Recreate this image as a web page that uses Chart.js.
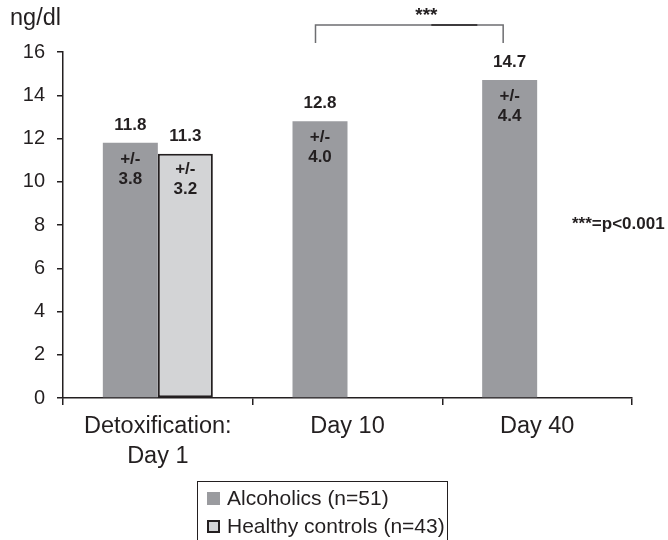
<!DOCTYPE html>
<html>
<head>
<meta charset="utf-8">
<script src="https://cdn.jsdelivr.net/npm/chart.js@4.4.1/dist/chart.umd.min.js"></script>
<style>
  html, body { margin: 0; padding: 0; background: #ffffff; }
  #wrap { position: relative; width: 668px; height: 540px; overflow: hidden; background: #ffffff; }
  #chart { position: absolute; left: 0; top: 0; }
  #legend { position: absolute; left: 197px; top: 481px; width: 251px; height: 90px;
            border: 1px solid #231f20; box-sizing: border-box;
            font-family: "Liberation Sans", Arial, sans-serif; font-size: 21px; color: #231f20; }
  .item { position: absolute; left: 0; height: 28px; line-height: 28px; white-space: nowrap; }
  .swatch { position: absolute; left: 9px; top: 8px; width: 13px; height: 13px; box-sizing: border-box; }
  .label { position: absolute; left: 29px; top: 0; }
</style>
</head>
<body>
<div id="wrap">
  <canvas id="chart" width="668" height="540"></canvas>
  <div id="legend"></div>
</div>
<script>
// ---- data ----
const categories = [["Detoxification:", "Day 1"], "Day 10", "Day 40"];
const seriesNames = ["Alcoholics (n=51)", "Healthy controls (n=43)"];
const alcoholics = [11.8, 12.8, 14.7];
const controls = [11.3, null, null];
const alcoholicsSD = [3.8, 4.0, 4.4];
const controlsSD = [3.2, null, null];
const yMin = 0;
const yMax = 16;
const yStep = 2;
const unitLabel = "ng/dl";
const sigMark = "***";
const sigNote = "***=p<0.001";
const sigPair = [1, 2]; // Day 10 vs Day 40

// ---- styles ----
const FONT = '"Liberation Sans", Arial, sans-serif';
const INK = '#231f20';
const colAlc = '#9a9b9f';
const colCtl = '#d3d4d6';

const sdSets = [alcoholicsSD, controlsSD];

const annotations = {
  id: 'annotations',
  afterDatasetsDraw(chart) {
    const ctx = chart.ctx;
    ctx.save();
    ctx.fillStyle = INK;
    ctx.textAlign = 'center';
    chart.data.datasets.forEach((ds, di) => {
      const meta = chart.getDatasetMeta(di);
      meta.data.forEach((bar, i) => {
        const v = ds.data[i];
        if (v === null || v === undefined) return;
        ctx.font = 'bold 17px ' + FONT;
        ctx.textBaseline = 'alphabetic';
        ctx.fillText(v.toFixed(1), bar.x, bar.y - 13);
        const sd = sdSets[di][i];
        if (sd !== null && sd !== undefined) {
          ctx.textBaseline = 'middle';
          ctx.fillText('+/-', bar.x, bar.y + 16);
          ctx.fillText(sd.toFixed(1), bar.x, bar.y + 36);
        }
      });
    });
    ctx.restore();
  },
  afterDraw(chart) {
    const ctx = chart.ctx;
    const area = chart.chartArea;
    ctx.save();
    // unit label
    ctx.fillStyle = INK;
    ctx.font = '23.5px ' + FONT;
    ctx.textAlign = 'left';
    ctx.textBaseline = 'middle';
    ctx.fillText(unitLabel, 10, 19);
    // significance bracket
    const meta = chart.getDatasetMeta(0);
    const b1 = meta.data[sigPair[0]], b2 = meta.data[sigPair[1]];
    const x1 = b1.x - 4.5, x2 = b2.x - 6.5;
    const yTop = area.top - 27, yBot = area.top - 9;
    ctx.strokeStyle = '#6d6e71';
    ctx.lineWidth = 1.5;
    ctx.beginPath();
    ctx.moveTo(x1, yBot); ctx.lineTo(x1, yTop); ctx.lineTo(x2, yTop); ctx.lineTo(x2, yBot);
    ctx.stroke();
    ctx.strokeStyle = INK;
    ctx.beginPath();
    const mid = (x1 + x2) / 2;
    ctx.moveTo(mid + 22, yTop); ctx.lineTo(mid + 68, yTop);
    ctx.stroke();
    ctx.font = 'bold 19px ' + FONT;
    ctx.textAlign = 'center';
    ctx.fillText(sigMark, mid + 17, yTop - 9);
    // p-value note
    ctx.textAlign = 'left';
    ctx.font = 'bold 17px ' + FONT;
    ctx.fillText(sigNote, 572, 224);
    ctx.restore();
  }
};

const htmlLegend = {
  id: 'htmlLegend',
  afterUpdate(chart) {
    const el = document.getElementById('legend');
    el.innerHTML = '';
    chart.data.datasets.forEach((ds, i) => {
      const item = document.createElement('div');
      item.className = 'item';
      item.style.top = (2 + i * 28) + 'px';
      const sw = document.createElement('span');
      sw.className = 'swatch';
      sw.style.background = ds.backgroundColor;
      if (ds.borderWidth) sw.style.border = '2px solid ' + ds.borderColor;
      const lb = document.createElement('span');
      lb.className = 'label';
      lb.textContent = ds.label;
      item.appendChild(sw);
      item.appendChild(lb);
      el.appendChild(item);
    });
  }
};

new Chart(document.getElementById('chart'), {
  type: 'bar',
  data: {
    labels: categories,
    datasets: [
      { label: seriesNames[0], data: alcoholics, backgroundColor: colAlc, borderWidth: 0 },
      { label: seriesNames[1], data: controls, backgroundColor: colCtl, borderColor: INK, borderWidth: 2, borderSkipped: false }
    ]
  },
  options: {
    responsive: false,
    animation: false,
    events: [],
    categoryPercentage: 0.58,
    barPercentage: 1.0,
    layout: { padding: { left: 0, right: 36, top: 52, bottom: 62 } },
    plugins: { legend: { display: false }, tooltip: { enabled: false }, title: { display: false } },
    scales: {
      x: {
        offset: true,
        grid: { offset: true, drawOnChartArea: false, drawTicks: true, tickLength: 7, color: INK, lineWidth: 1.5 },
        border: { color: INK, width: 1.5 },
        ticks: { color: INK, font: { family: FONT, size: 23.5, lineHeight: 30/23.5 }, padding: 7, maxRotation: 0, autoSkip: false },
        afterFit(scale) { scale.height = 80; }
      },
      y: {
        min: yMin, max: yMax,
        grid: { drawOnChartArea: false, drawTicks: true, tickLength: 6, color: INK, lineWidth: 1.5 },
        border: { color: INK, width: 1.5 },
        ticks: { stepSize: yStep, color: INK, font: { family: FONT, size: 20 }, padding: 12 },
        afterFit(scale) { scale.width = 63; }
      }
    }
  },
  plugins: [annotations, htmlLegend]
});
</script>
</body>
</html>
